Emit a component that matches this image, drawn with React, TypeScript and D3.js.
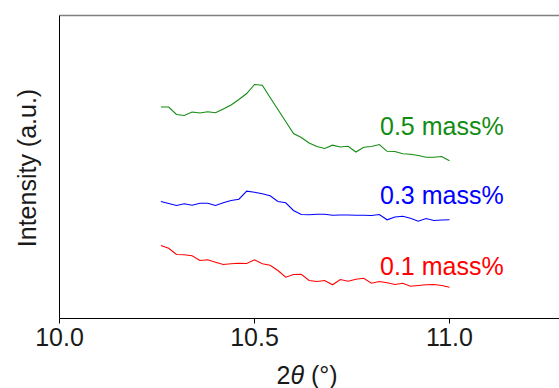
import React from 'react';
import * as d3 from 'd3';

// 2theta positions (deg), 0.02 step
const twoTheta = d3.range(38).map(i => +(10.26 + i * 0.02).toFixed(2));

// intensities (a.u.), already offset per sample
const mass05 = [
  211.5, 211.5, 204, 203, 206.5, 205.5, 206.7, 205.7, 209.5, 213.5,
  219, 225, 234, 233.3, 221, 209, 197, 185, 181, 175.5,
  172, 170, 173.3, 171.5, 172.3, 166.5, 171.3, 172, 174, 167.2,
  167, 164.7, 164.3, 163, 161.3, 161.3, 162, 157.7,
];
const mass03 = [
  117, 115, 113, 114.7, 113.3, 115.3, 115.3, 113, 115.7, 118,
  119.3, 127.3, 126.3, 124.7, 122.7, 117, 115.7, 108, 104, 103.7,
  104.2, 104.3, 103.3, 103.5, 103.5, 103.3, 103.3, 103, 104, 98.7,
  101.5, 102.3, 100.3, 97.3, 100, 98, 98.5, 98.7,
];
const mass01 = [
  73, 70.3, 64, 63.7, 62.7, 58, 58.7, 56.3, 54, 54.7,
  55.3, 55, 58.7, 54.7, 53.3, 48, 41.3, 44, 44.3, 38,
  37, 38, 33.7, 39, 37.3, 39.3, 40.3, 35.3, 37, 35.7,
  34, 35.3, 32.3, 33, 33.7, 34, 33, 31.3,
];

const seriesNames = ['0.5 mass%', '0.3 mass%', '0.1 mass%'];
const seriesColors = ['#128c12', '#0000ff', '#ff0000'];
const seriesData = [mass05, mass03, mass01];
const labelY = [184, 115, 44]; // label baseline, in intensity units

const xTicks = [10.0, 10.5, 11.0];

const W = 559;
const H = 388;
const left = 59.5;
const top = 15.5;
const bottom = 318.5;

const font = '"Liberation Sans", Arial, sans-serif';

export default function App() {
  const x = d3.scaleLinear().domain([10, 11.3]).range([left, left + 1.3 * 390]);
  const y = d3.scaleLinear().domain([0, 303]).range([bottom, top]);

  const line = d3.line<[number, number]>()
    .x(d => x(d[0]))
    .y(d => y(d[1]));

  return (
    <svg width={W} height={H} style={{ position: 'absolute', left: 0, top: 0 }} fontFamily={font}>
      <rect width={W} height={H} fill="#fff" />

      {/* frame */}
      <line x1={left} x2={W} y1={top} y2={top} stroke="#808080" strokeWidth={1.3} />
      <line x1={left} x2={left} y1={top} y2={bottom} stroke="#000" strokeWidth={1} />
      <line x1={left} x2={W} y1={bottom} y2={bottom} stroke="#000" strokeWidth={1} />

      {/* x ticks */}
      {xTicks.map(t => (
        <g key={t} transform={`translate(${x(t)},${bottom})`}>
          <line y1={0} y2={5} stroke="#000" />
          <text y={27} textAnchor="middle" fontSize={25} fill="#1a1a1a">
            {d3.format('.1f')(t)}
          </text>
        </g>
      ))}

      <text x={307} y={384} textAnchor="middle" fontSize={25} fill="#1a1a1a">
        2<tspan fontStyle="italic">θ</tspan> (°)
      </text>

      <text
        transform={`translate(36,${(top + bottom) / 2 + 1}) rotate(-90)`}
        textAnchor="middle"
        fontSize={25}
        fill="#1a1a1a"
      >
        Intensity (a.u.)
      </text>

      {/* spectra */}
      {seriesData.map((vals, i) => (
        <path
          key={seriesNames[i]}
          d={line(twoTheta.map((t, j) => [t, vals[j]] as [number, number])) || ''}
          fill="none"
          stroke={seriesColors[i]}
          strokeWidth={1.1}
        />
      ))}

      {seriesNames.map((name, i) => (
        <text key={name} x={380} y={y(labelY[i])} fontSize={25} fill={seriesColors[i]}>
          {name}
        </text>
      ))}
    </svg>
  );
}
